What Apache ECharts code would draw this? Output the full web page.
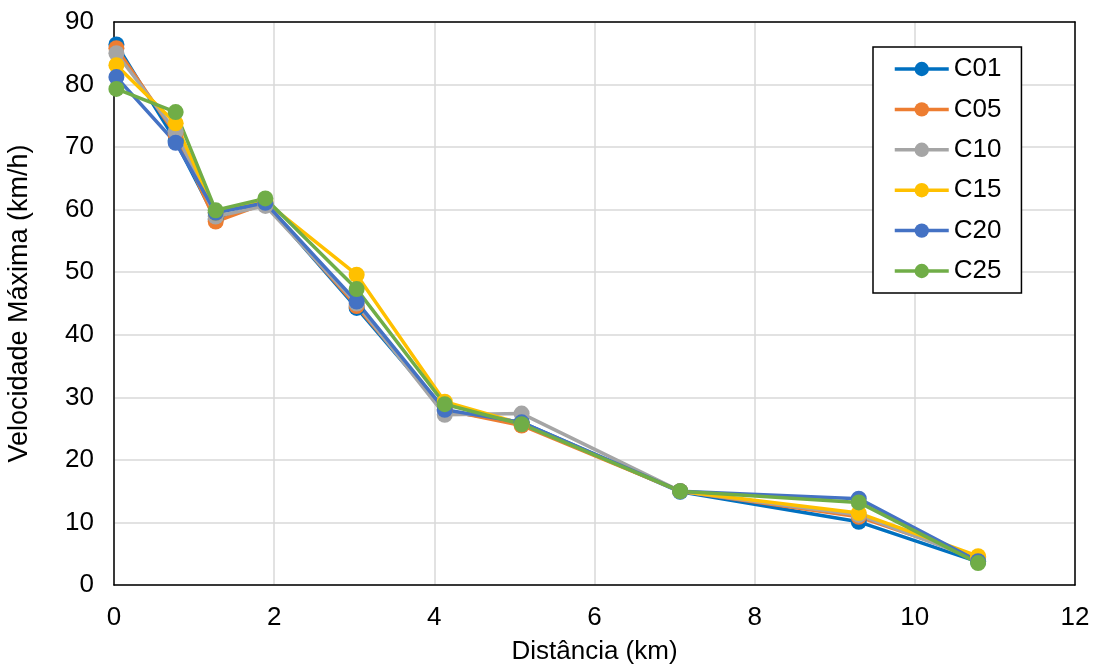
<!DOCTYPE html>
<html>
<head>
<meta charset="utf-8">
<script src="https://cdn.jsdelivr.net/npm/echarts@6/dist/echarts.min.js"></script>
<style>
  html, body { margin: 0; padding: 0; background: #fff; }
  #chart { width: 1097px; height: 668px; }
</style>
</head>
<body>
<div id="chart"></div>
<script>
// distance along the road (km)
var distancia = [0.03, 0.77, 1.27, 1.89, 3.03, 4.13, 5.09, 7.07, 9.30, 10.79];

var c01 = [86.4, 71.0, 58.5, 61.0, 44.3, 27.8, 26.0, 14.9, 10.1, 3.7];
var c05 = [85.8, 72.0, 58.1, 61.0, 44.6, 28.0, 25.5, 15.0, 10.9, 4.4];
var c10 = [85.0, 72.5, 58.9, 60.6, 45.0, 27.2, 27.4, 15.0, 11.2, 4.0];
var c15 = [83.1, 73.8, 59.5, 61.3, 49.6, 29.3, 25.8, 15.0, 11.5, 4.6];
var c20 = [81.2, 70.7, 59.5, 61.1, 45.3, 28.0, 26.0, 15.0, 13.8, 3.8];
var c25 = [79.3, 75.6, 59.9, 61.8, 47.3, 28.9, 25.7, 15.0, 13.2, 3.5];

var seriesNames = ["C01", "C05", "C10", "C15", "C20", "C25"];
var seriesValues = [c01, c05, c10, c15, c20, c25];
var colors = ["#0070C0", "#ED7D31", "#A5A5A5", "#FFC000", "#4472C4", "#70AD47"];

var font = "'Liberation Sans', Arial, sans-serif";
var fs = 26;

// plain axis used only to draw the black frame on top / right
function frameAxis(pos, min, max) {
  return {
    type: "value",
    position: pos,
    min: min,
    max: max,
    axisLine: { show: true, onZero: false, lineStyle: { color: "#000", width: 1.5 } },
    axisTick: { show: false },
    axisLabel: { show: false },
    splitLine: { show: false }
  };
}

var chart = echarts.init(document.getElementById("chart"));

chart.setOption({
  animation: false,
  color: colors,
  grid: {
    left: 114,
    right: 22,
    top: 22,
    bottom: 83,
    containLabel: false,
    outerBoundsMode: "none"
  },
  legend: {
    orient: "vertical",
    left: 873,
    top: 47,
    padding: [9, 20, 9, 20],
    itemWidth: 54,
    itemHeight: 18,
    itemGap: 14.4,
    backgroundColor: "#fff",
    borderColor: "#000",
    borderWidth: 1.5,
    lineStyle: { width: 3.5 },
    textStyle: { fontFamily: font, fontSize: fs, lineHeight: 26, color: "#000" },
    data: seriesNames
  },
  xAxis: [
    {
      type: "value",
      min: 0,
      max: 12,
      interval: 2,
      name: "Distância (km)",
      nameLocation: "middle",
      nameGap: 54,
      nameTextStyle: { fontFamily: font, fontSize: fs, color: "#000" },
      axisLine: { show: true, onZero: false, lineStyle: { color: "#000", width: 1.5 } },
      axisTick: { show: false },
      axisLabel: { fontFamily: font, fontSize: fs, color: "#000", margin: 20 },
      splitLine: { show: true, lineStyle: { color: "#D9D9D9", width: 1.5 } }
    },
    frameAxis("top", 0, 12)
  ],
  yAxis: [
    {
      type: "value",
      min: 0,
      max: 90,
      interval: 10,
      name: "Velocidade Máxima (km/h)",
      nameLocation: "middle",
      nameGap: 81,
      nameTextStyle: { fontFamily: font, fontSize: 27, color: "#000" },
      axisLine: { show: true, onZero: false, lineStyle: { color: "#000", width: 1.5 } },
      axisTick: { show: false },
      axisLabel: { fontFamily: font, fontSize: fs, color: "#000", margin: 20 },
      splitLine: { show: true, lineStyle: { color: "#D9D9D9", width: 1.5 } }
    },
    frameAxis("right", 0, 90)
  ],
  series: seriesNames.map(function (name, i) {
    return {
      name: name,
      type: "line",
      xAxisIndex: 0,
      yAxisIndex: 0,
      data: distancia.map(function (d, j) { return [d, seriesValues[i][j]]; }),
      symbol: "circle",
      symbolSize: 16,
      lineStyle: { width: 3.5 },
      itemStyle: { color: colors[i] }
    };
  })
});
</script>
</body>
</html>
